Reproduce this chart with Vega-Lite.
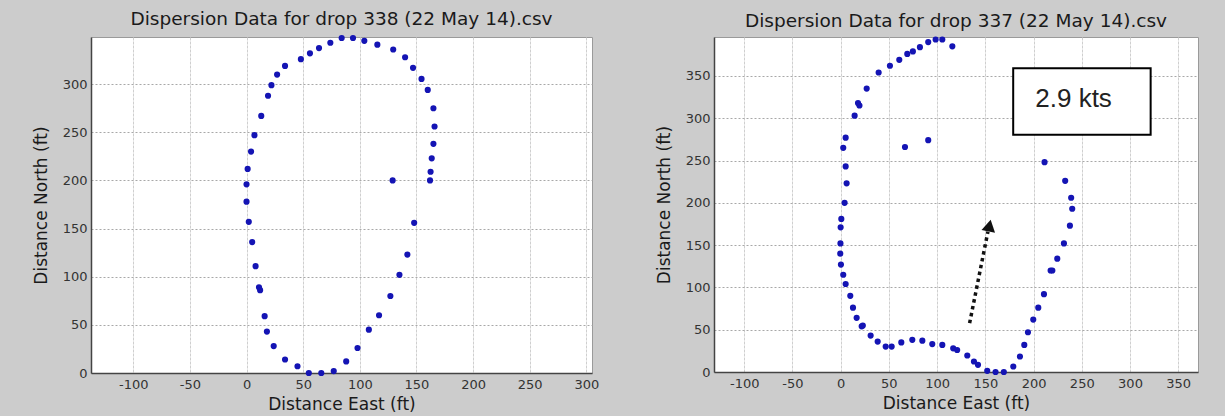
{
  "$schema": "https://vega.github.io/schema/vega-lite/v6.json",
  "background": "#cccccc",
  "padding": {"left": 31, "top": 9, "right": 26, "bottom": 5},
  "bounds": "flush",
  "spacing": 122,
  "datasets": {
    "d338": [
      {"east": 55, "north": 0}, {"east": 66, "north": 0}, {"east": 77, "north": 2}, {"east": 88, "north": 12},
      {"east": 98, "north": 26}, {"east": 108, "north": 45}, {"east": 117, "north": 60}, {"east": 127, "north": 80},
      {"east": 135, "north": 102}, {"east": 142, "north": 123}, {"east": 148, "north": 156}, {"east": 129, "north": 200},
      {"east": 162, "north": 200}, {"east": 162.5, "north": 209}, {"east": 163.5, "north": 223}, {"east": 165, "north": 238},
      {"east": 166, "north": 256}, {"east": 165, "north": 275}, {"east": 160, "north": 294}, {"east": 154.5, "north": 305.5},
      {"east": 147, "north": 317}, {"east": 140, "north": 328}, {"east": 129.5, "north": 336}, {"east": 115.5, "north": 341},
      {"east": 104, "north": 345}, {"east": 94, "north": 348}, {"east": 84, "north": 348}, {"east": 74, "north": 343},
      {"east": 64, "north": 337.5}, {"east": 56, "north": 332}, {"east": 48, "north": 326}, {"east": 34, "north": 319},
      {"east": 27, "north": 310}, {"east": 22, "north": 299}, {"east": 19, "north": 288}, {"east": 13, "north": 267},
      {"east": 7, "north": 247}, {"east": 4, "north": 230}, {"east": 1, "north": 212}, {"east": 0, "north": 196},
      {"east": 0, "north": 178}, {"east": 2, "north": 157}, {"east": 5, "north": 136}, {"east": 8, "north": 111},
      {"east": 11, "north": 89}, {"east": 12, "north": 86}, {"east": 16, "north": 59}, {"east": 18, "north": 43},
      {"east": 24, "north": 28}, {"east": 34, "north": 14}, {"east": 45, "north": 7}
    ],
    "d337": [
      {"east": 0.7, "north": 181}, {"east": 4.1, "north": 200}, {"east": 6.2, "north": 223}, {"east": 5.2, "north": 243},
      {"east": 2.7, "north": 265}, {"east": 5.2, "north": 277}, {"east": 14.5, "north": 303}, {"east": 18, "north": 318},
      {"east": 19.5, "north": 315}, {"east": 27, "north": 335}, {"east": 39.4, "north": 354}, {"east": 51.1, "north": 362},
      {"east": 60.8, "north": 369}, {"east": 69.1, "north": 376}, {"east": 74.9, "north": 379}, {"east": 82.2, "north": 384},
      {"east": 90.8, "north": 390}, {"east": 98.5, "north": 393}, {"east": 105.4, "north": 393}, {"east": 115.8, "north": 385},
      {"east": 66.7, "north": 266}, {"east": 90.8, "north": 274}, {"east": 0, "north": 171}, {"east": -0.2, "north": 152},
      {"east": -0.4, "north": 140}, {"east": 0.3, "north": 127}, {"east": 2.7, "north": 115}, {"east": 5.2, "north": 104},
      {"east": 10, "north": 90}, {"east": 12.8, "north": 76}, {"east": 16.6, "north": 64}, {"east": 21.8, "north": 54},
      {"east": 23, "north": 55}, {"east": 31.1, "north": 43}, {"east": 38.4, "north": 36}, {"east": 46.7, "north": 30},
      {"east": 52.9, "north": 30}, {"east": 62.9, "north": 35}, {"east": 74.3, "north": 38}, {"east": 84.7, "north": 37},
      {"east": 95, "north": 33}, {"east": 105.4, "north": 32}, {"east": 116.7, "north": 28}, {"east": 120.8, "north": 26},
      {"east": 131.3, "north": 19.5}, {"east": 138.2, "north": 12.4}, {"east": 142.4, "north": 8.5}, {"east": 152, "north": 1.4},
      {"east": 160.6, "north": 0}, {"east": 169.2, "north": 0}, {"east": 179, "north": 6.5}, {"east": 185.9, "north": 18.3},
      {"east": 190.4, "north": 32}, {"east": 194.2, "north": 47}, {"east": 199.7, "north": 62}, {"east": 204.9, "north": 76},
      {"east": 210.8, "north": 92}, {"east": 217.7, "north": 120}, {"east": 219.5, "north": 120}, {"east": 224.6, "north": 134},
      {"east": 231.5, "north": 152}, {"east": 237.7, "north": 173}, {"east": 240.1, "north": 193}, {"east": 239, "north": 206},
      {"east": 232.8, "north": 226}, {"east": 211.4, "north": 248}
    ],
    "box": [{"east": 178.9, "north": 359.1, "east2": 321.4, "north2": 280.4}],
    "label": [{"east": 241.5, "north": 313.8, "label": "2.9 kts"}],
    "arrow": [{"east": 133.7, "north": 57.7, "east2": 152.7, "north2": 166}],
    "head": [{"east": 154.3, "north": 173}]
  },
  "config": {
    "font": "DejaVu Sans",
    "view": {"fill": "white", "stroke": "#9a9a9a", "strokeWidth": 1},
    "title": {"fontSize": 18.5, "fontWeight": "normal", "color": "#1a1a1a", "frame": "group", "anchor": "middle", "baseline": "bottom", "offset": 6},
    "axis": {
      "labelFont": "DejaVu Sans", "labelFontSize": 13, "labelColor": "#333333",
      "titleFont": "DejaVu Sans", "titleFontSize": 17, "titleFontWeight": "normal", "titleColor": "#1a1a1a",
      "ticks": false, "labelPadding": 4, "titlePadding": 12,
      "domainColor": "#444444", "domainWidth": 1.5,
      "gridColor": "#a8a8a8", "gridDash": [2, 2], "gridOpacity": 1,
      "labelFlush": false, "labelOverlap": false,
      "labelExpr": "replace(datum.label, '−', '-')"
    },
    "axisX": {"gridColor": "#cfcfcf", "gridDash": [3, 1], "labelPadding": 5, "titlePadding": 5}
  },
  "hconcat": [
    {
      "width": 501,
      "height": 336,
      "title": "Dispersion Data for drop 338 (22 May 14).csv",
      "data": {"name": "d338"},
      "mark": {"type": "point", "filled": true, "shape": "circle", "size": 38, "color": "#1414b4", "opacity": 1},
      "encoding": {
        "x": {"field": "east", "type": "quantitative", "scale": {"domain": [-137.3, 305], "nice": false, "zero": false},
              "axis": {"title": "Distance East (ft)", "values": [-100, -50, 0, 50, 100, 150, 200, 250, 300]}},
        "y": {"field": "north", "type": "quantitative", "scale": {"domain": [0, 349], "nice": false},
              "axis": {"title": "Distance North (ft)", "values": [0, 50, 100, 150, 200, 250, 300]}}
      }
    },
    {
      "width": 484,
      "height": 335,
      "title": "Dispersion Data for drop 337 (22 May 14).csv",
      "encoding": {
        "x": {"field": "east", "type": "quantitative", "scale": {"domain": [-131.3, 370.5], "nice": false, "zero": false},
              "axis": {"title": "Distance East (ft)", "values": [-100, -50, 0, 50, 100, 150, 200, 250, 300, 350]}},
        "y": {"field": "north", "type": "quantitative", "scale": {"domain": [0, 396], "nice": false},
              "axis": {"title": "Distance North (ft)", "values": [0, 50, 100, 150, 200, 250, 300, 350]}}
      },
      "layer": [
        {
          "data": {"name": "d337"},
          "mark": {"type": "point", "filled": true, "shape": "circle", "size": 38, "color": "#1414b4", "opacity": 1}
        },
        {
          "data": {"name": "box"},
          "mark": {"type": "rect", "fill": "white", "stroke": "black", "strokeWidth": 2},
          "encoding": {"x2": {"field": "east2"}, "y2": {"field": "north2"}}
        },
        {
          "data": {"name": "label"},
          "mark": {"type": "text", "font": "Liberation Sans", "fontSize": 26, "color": "#222222", "baseline": "alphabetic", "align": "center"},
          "encoding": {"text": {"field": "label"}}
        },
        {
          "data": {"name": "arrow"},
          "mark": {"type": "rule", "strokeDash": [3.5, 3.5], "strokeWidth": 3.5, "color": "#111111"},
          "encoding": {"x2": {"field": "east2"}, "y2": {"field": "north2"}}
        },
        {
          "data": {"name": "head"},
          "mark": {"type": "point", "shape": "triangle-up", "filled": true, "size": 190, "angle": 11.5, "color": "#111111", "opacity": 1}
        }
      ]
    }
  ]
}
